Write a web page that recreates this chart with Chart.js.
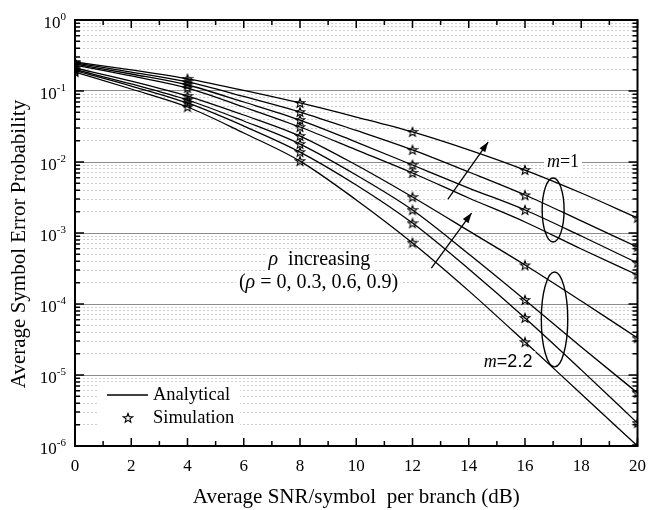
<!DOCTYPE html>
<html>
<head>
<meta charset="utf-8">
<script src="https://cdn.jsdelivr.net/npm/chart.js@4.4.1/dist/chart.umd.min.js"></script>
<style>
  html, body { margin: 0; padding: 0; background: #fff; }
  #wrap { width: 656px; height: 510px; }
</style>
</head>
<body>
<div id="wrap"><canvas id="serChart" width="656" height="510"></canvas></div>
<script>
// SNR (dB) for analytical curves and simulation points
const snr = [0, 2, 4, 6, 8, 10, 12, 14, 16, 18, 20];
const simSnr = [0, 4, 8, 12, 16, 20];

// analytical SER, m = 1, rho = 0.9, 0.6, 0.3, 0
const m1rho09 = [0.256, 0.198, 0.148, 0.102, 0.0678, 0.043, 0.0265, 0.0148, 0.0077, 0.00366, 0.00163];
const m1rho06 = [0.248, 0.185, 0.134, 0.0837, 0.0506, 0.0278, 0.0148, 0.00723, 0.00343, 0.00148, 0.000635];
const m1rho03 = [0.240, 0.1735, 0.1215, 0.070, 0.039, 0.0191, 0.00907, 0.0043, 0.00211, 0.000907, 0.000378];
const m1rho00 = [0.232, 0.163, 0.110, 0.0595, 0.0311, 0.0148, 0.0070, 0.00311, 0.00143, 0.000595, 0.000256];
// analytical SER, m = 2.2
const m22rho09 = [0.211, 0.138, 0.085, 0.0459, 0.0232, 0.00907, 0.00321, 0.00107, 0.000354, 0.00011, 0.0000332];
const m22rho06 = [0.201, 0.1255, 0.0747, 0.0378, 0.0179, 0.00656, 0.00211, 0.000506, 0.000114, 0.0000248, 0.0000056];
const m22rho03 = [0.194, 0.1176, 0.0678, 0.0321, 0.0138, 0.00474, 0.00138, 0.000311, 0.0000635, 0.0000118, 0.0000021];
const m22rho00 = [0.185, 0.1067, 0.0595, 0.0256, 0.0103, 0.00292, 0.000723, 0.000153, 0.0000292, 0.0000054, 0.000001];

// simulation points
const simM1rho09 = [0.256, 0.148, 0.0678, 0.0265, 0.0077, 0.00163];
const simM1rho06 = [0.248, 0.134, 0.0506, 0.0148, 0.0034, 0.00064];
const simM1rho03 = [0.240, 0.122, 0.039, 0.0091, 0.0021, 0.00038];
const simM1rho00 = [0.232, 0.110, 0.031, 0.0070, null, 0.00026];
const simM22rho09 = [0.211, 0.085, 0.0232, 0.0032, 0.00035, 0.000033];
const simM22rho06 = [0.201, 0.075, 0.0179, 0.0021, 0.000114, 0.0000056];
const simM22rho03 = [0.194, 0.068, 0.0138, 0.00137, 0.0000635, 0.0000021];
const simM22rho00 = [0.185, 0.0595, 0.0103, 0.00073, 0.000029, 0.000001];

const yDecades = [1e-6, 1e-5, 1e-4, 1e-3, 1e-2, 1e-1, 1];
const yDecadeExp = ['-6', '-5', '-4', '-3', '-2', '-1', '0'];
const xTickLabels = [0, 2, 4, 6, 8, 10, 12, 14, 16, 18, 20];

const serif = "'Liberation Serif', 'Times New Roman', serif";
const sans = "'Liberation Sans', Arial, sans-serif";

const isDecade = v => Math.abs(Math.log10(v) - Math.round(Math.log10(v))) < 1e-6;

// minor + major log ticks (1..9 per decade)
const yGridValues = [];
for (let i = 0; i < yDecades.length - 1; i++) {
  for (let k = 1; k <= 9; k++) yGridValues.push(k * yDecades[i]);
}
yGridValues.push(1);

// hollow star for simulation points
const starImg = document.createElement('canvas');
starImg.width = 12; starImg.height = 12;
(function () {
  const c = starImg.getContext('2d');
  c.beginPath();
  for (let i = 0; i < 10; i++) {
    const r = i % 2 === 0 ? 4.8 : 2.0;
    const a = -Math.PI / 2 + i * Math.PI / 5;
    const px = 6 + r * Math.cos(a), py = 6.3 + r * Math.sin(a);
    if (i === 0) c.moveTo(px, py); else c.lineTo(px, py);
  }
  c.closePath();
  c.lineWidth = 1.1;
  c.strokeStyle = '#000';
  c.stroke();
})();

function lineSet(vals) {
  return {
    data: snr.map((x, i) => ({ x: x, y: vals[i] })),
    borderColor: '#000', borderWidth: 1.3, pointRadius: 0,
    cubicInterpolationMode: 'monotone', fill: false
  };
}
function simSet(vals) {
  return {
    data: simSnr.map((x, i) => ({ x: x, y: vals[i] })).filter(p => p.y !== null),
    showLine: false, pointStyle: starImg, pointRadius: 6, borderColor: '#000'
  };
}

function runsWidth(ctx, runs) {
  let w = 0;
  runs.forEach(r => { ctx.font = r.font; r.w = ctx.measureText(r.t).width; w += r.w; });
  return w;
}
function drawRuns(ctx, runs, x, cy) {
  ctx.textAlign = 'left';
  ctx.textBaseline = 'middle';
  runs.forEach(r => { ctx.font = r.font; ctx.fillText(r.t, x, cy + (r.dy || 0)); x += r.w; });
}
function textBlock(ctx, runs, cx, cy, bg) {
  const w = runsWidth(ctx, runs);
  if (bg) { ctx.fillStyle = '#fff'; ctx.fillRect(cx - w / 2 - 3, cy - 11, w + 6, 22); }
  ctx.fillStyle = '#000';
  drawRuns(ctx, runs, cx - w / 2, cy);
}
function arrow(ctx, x1, y1, x2, y2) {
  ctx.beginPath(); ctx.moveTo(x1, y1); ctx.lineTo(x2, y2); ctx.stroke();
  const a = Math.atan2(y2 - y1, x2 - x1);
  ctx.beginPath();
  ctx.moveTo(x2, y2);
  ctx.lineTo(x2 - 10 * Math.cos(a) + 3.5 * Math.sin(a), y2 - 10 * Math.sin(a) - 3.5 * Math.cos(a));
  ctx.lineTo(x2 - 10 * Math.cos(a) - 3.5 * Math.sin(a), y2 - 10 * Math.sin(a) + 3.5 * Math.cos(a));
  ctx.closePath(); ctx.fill();
}

const decorPlugin = {
  id: 'decor',
  afterDatasetsDraw(chart) {
    const ctx = chart.ctx;
    const xs = chart.scales.x, ys = chart.scales.y;
    const a = chart.chartArea;
    const px = v => xs.getPixelForValue(v), py = v => ys.getPixelForValue(v);
    ctx.save();
    ctx.strokeStyle = '#000';
    ctx.fillStyle = '#000';

    // annotations
    textBlock(ctx, [{ t: 'm', font: 'italic 18px ' + serif }, { t: '=1', font: '18px ' + serif }], px(17.35), py(1e-2), true);
    textBlock(ctx, [{ t: 'm', font: 'italic 18px ' + serif }, { t: '=2.2', font: '18px ' + sans }], px(15.4), py(1.52e-5), true);
    textBlock(ctx, [{ t: 'ρ', font: 'italic 20px ' + serif }, { t: '  increasing', font: '20px ' + serif }], px(8.69), py(4.17e-4), true);
    textBlock(ctx, [{ t: '(', font: '20px ' + serif }, { t: 'ρ', font: 'italic 20px ' + serif },
      { t: ' = 0, 0.3, 0.6, 0.9)', font: '20px ' + serif }], px(8.66), py(1.98e-4), true);

    ctx.lineWidth = 1.4;
    [[16.61, 17.39, 5.95e-3, 7.47e-4], [16.58, 17.52, 2.82e-4, 1.3e-5]].forEach(e => {
      const x1 = px(e[0]), x2 = px(e[1]), y1 = py(e[2]), y2 = py(e[3]);
      ctx.beginPath();
      ctx.ellipse((x1 + x2) / 2, (y1 + y2) / 2, (x2 - x1) / 2, (y2 - y1) / 2, 0, 0, Math.PI * 2);
      ctx.stroke();
    });
    ctx.lineWidth = 1.3;
    arrow(ctx, px(13.26), py(3.01e-3), px(14.69), py(1.91e-2));
    arrow(ctx, px(12.67), py(3.21e-4), px(14.10), py(1.91e-3));

    // legend
    ctx.fillStyle = '#fff';
    ctx.fillRect(97, 382, 143, 50);
    ctx.fillStyle = '#000';
    ctx.lineWidth = 1.3;
    ctx.beginPath(); ctx.moveTo(107, 395); ctx.lineTo(148, 395); ctx.stroke();
    ctx.drawImage(starImg, 122, 412);
    ctx.font = '18.5px ' + serif;
    ctx.textAlign = 'left'; ctx.textBaseline = 'middle';
    ctx.fillText('Analytical', 153, 395);
    ctx.fillText('Simulation', 153, 418);

    // tick marks (inward) and frame
    ctx.lineWidth = 1.5;
    ys.ticks.forEach(t => {
      const y = py(t.value);
      const len = isDecade(t.value) ? 9 : 5;
      ctx.beginPath();
      ctx.moveTo(a.left, y); ctx.lineTo(a.left + len, y);
      ctx.moveTo(a.right, y); ctx.lineTo(a.right - len, y);
      ctx.stroke();
    });
    for (let v = 0; v <= 20; v++) {
      const x = px(v);
      const len = v % 2 === 0 ? 8 : 5;
      ctx.beginPath();
      ctx.moveTo(x, a.bottom); ctx.lineTo(x, a.bottom - len);
      ctx.moveTo(x, a.top); ctx.lineTo(x, a.top + len);
      ctx.stroke();
    }
    ctx.lineWidth = 2;
    ctx.strokeRect(a.left, a.top, a.right - a.left, a.bottom - a.top);

    // y tick labels 10^n
    yDecades.forEach((v, i) => {
      const runs = [{ t: '10', font: '17px ' + serif, dy: 4 }, { t: yDecadeExp[i], font: '11px ' + serif, dy: -3 }];
      const w = runsWidth(ctx, runs);
      drawRuns(ctx, runs, 66 - w, py(v));
    });

    // axis titles
    ctx.font = '21px ' + serif;
    ctx.textAlign = 'center'; ctx.textBaseline = 'middle';
    ctx.fillText('Average SNR/symbol  per branch (dB)', (a.left + a.right) / 2, 497);
    ctx.save();
    ctx.translate(19, 244);
    ctx.rotate(-Math.PI / 2);
    ctx.fillText('Average Symbol Error Probability', 0, 0);
    ctx.restore();

    ctx.restore();
  }
};

const ctx = document.getElementById('serChart').getContext('2d');
new Chart(ctx, {
  type: 'line',
  data: {
    datasets: [
      lineSet(m1rho09), lineSet(m1rho06), lineSet(m1rho03), lineSet(m1rho00),
      lineSet(m22rho09), lineSet(m22rho06), lineSet(m22rho03), lineSet(m22rho00),
      simSet(simM1rho09), simSet(simM1rho06), simSet(simM1rho03), simSet(simM1rho00),
      simSet(simM22rho09), simSet(simM22rho06), simSet(simM22rho03), simSet(simM22rho00)
    ]
  },
  options: {
    responsive: false,
    animation: false,
    devicePixelRatio: 1,
    layout: { padding: { top: 20, left: 0, right: 0, bottom: 0 } },
    plugins: { legend: { display: false }, tooltip: { enabled: false } },
    scales: {
      x: {
        type: 'linear', min: 0, max: 20,
        afterBuildTicks: s => { s.ticks = xTickLabels.map(v => ({ value: v })); },
        afterFit: s => { s.height = 64; },
        grid: { display: false, drawTicks: false },
        border: { display: false },
        ticks: { color: '#000', font: { family: serif, size: 17 }, padding: 10, maxRotation: 0 }
      },
      y: {
        type: 'logarithmic', position: 'left', min: 1e-6, max: 1,
        afterBuildTicks: s => { s.ticks = yGridValues.map(v => ({ value: v })); },
        afterFit: s => { s.width = 75; },
        grid: {
          drawTicks: false, lineWidth: 1,
          color: c => (c.tick && isDecade(c.tick.value)) ? 'rgba(0,0,0,0)' : '#cdcdcd'
        },
        border: { display: false, dash: [2, 2] },
        ticks: { display: false }
      },
      y2: {
        type: 'logarithmic', position: 'right', min: 1e-6, max: 1,
        afterBuildTicks: s => { s.ticks = yDecades.map(v => ({ value: v })); },
        afterFit: s => { s.width = 8; },
        grid: { drawTicks: false, lineWidth: 1, color: '#8c8c8c' },
        border: { display: false },
        ticks: { display: false }
      }
    }
  },
  plugins: [decorPlugin]
});
</script>
</body>
</html>
